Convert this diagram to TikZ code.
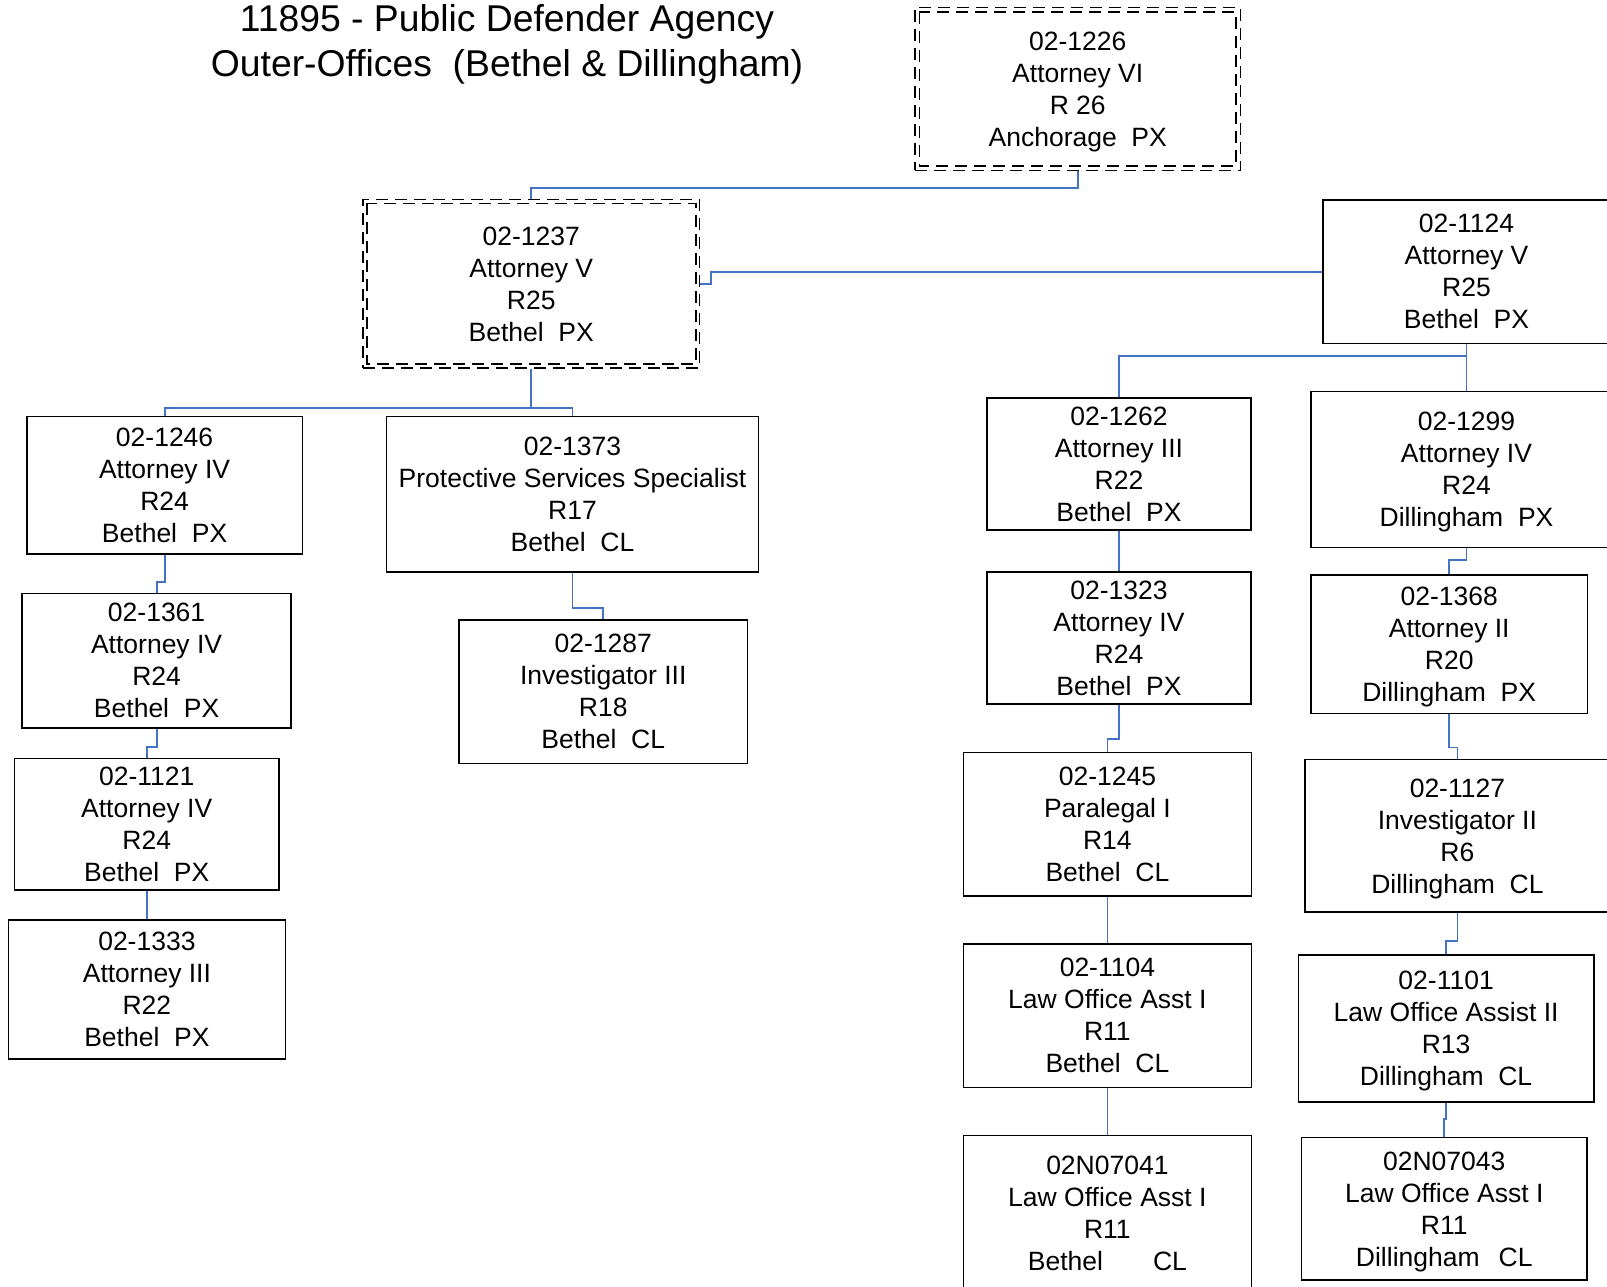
\documentclass[tikz,border=0pt]{standalone}
\usepackage{fontspec}
\setmainfont{Liberation Sans}
\usetikzlibrary{calc}
\definecolor{conblue}{HTML}{4472C4}
\newcommand\dsp{\ \ }
\begin{document}
\begin{tikzpicture}[x=1pt,y=-1pt,
  box/.style={draw=black,line width=1.6pt,inner sep=0pt,align=center,text depth=0pt,font=\fontsize{26.5}{32}\selectfont},
  dashbox/.style={box,line width=1.8pt,dash pattern=on 12pt off 7pt},
  dashline/.style={draw=black,line width=1.8pt,dash pattern=on 12pt off 7pt},
  conn/.style={draw=conblue,line width=1.8pt},
  vhv/.style={to path={-- (\tikztostart |- #1) -- (\tikztotarget |- #1) -- (\tikztotarget)}},
  hvh/.style={to path={-- (\tikztostart -| #1) -- (\tikztotarget -| #1) -- (\tikztotarget)}}]
\useasboundingbox (0,0) rectangle (1607,1287);
\clip (0,0) rectangle (1607,1287);

% title
\node[anchor=base,align=center,font=\fontsize{37.3}{45}\selectfont] (title) at (507,76.8)
  {11895 - Public Defender Agency\\Outer-Offices\dsp(Bethel \& Dillingham)};

% boxes
\node[dashbox,minimum width=325.5pt,minimum height=163pt] (b1226) at (1077.75,89)
  {02-1226\\Attorney VI\\R 26\\Anchorage\dsp PX};
\draw[dashline] ([shift={(5.3,5.3)}]b1226.north west) rectangle ([shift={(-5.3,-5.3)}]b1226.south east);

\node[dashbox,minimum width=336.5pt,minimum height=168.5pt] (b1237) at (531.25,283.75)
  {02-1237\\Attorney V\\R25\\Bethel\dsp PX};
\draw[dashline] ([shift={(4.8,4.8)}]b1237.north west) rectangle ([shift={(-4.8,-4.8)}]b1237.south east);

\node[box,minimum width=287pt,minimum height=143.3pt] (b1124) at (1466.5,271.65)
  {02-1124\\Attorney V\\R25\\Bethel\dsp PX};
\node[box,minimum width=275.8pt,minimum height=137.4pt] (b1246) at (164.6,485)
  {02-1246\\Attorney IV\\R24\\Bethel\dsp PX};
\node[box,minimum width=372pt,minimum height=155.3pt] (b1373) at (572.5,494.15)
  {02-1373\\Protective Services Specialist\\R17\\Bethel\dsp CL};
\node[box,minimum width=268.8pt,minimum height=134.6pt] (b1361) at (156.6,660.7)
  {02-1361\\Attorney IV\\R24\\Bethel\dsp PX};
\node[box,minimum width=288.5pt,minimum height=143.4pt] (b1287) at (603.25,691.7)
  {02-1287\\Investigator III\\R18\\Bethel\dsp CL};
\node[box,minimum width=264.5pt,minimum height=131.4pt] (b1121) at (146.75,824.1)
  {02-1121\\Attorney IV\\R24\\Bethel\dsp PX};
\node[box,minimum width=277.2pt,minimum height=138.5pt] (b1333) at (146.9,989.45)
  {02-1333\\Attorney III\\R22\\Bethel\dsp PX};
\node[box,minimum width=264.4pt,minimum height=132.2pt] (b1262) at (1119,463.8)
  {02-1262\\Attorney III\\R22\\Bethel\dsp PX};
\node[box,minimum width=311pt,minimum height=155.8pt] (b1299) at (1466.5,469.4)
  {02-1299\\Attorney IV\\R24\\Dillingham\dsp PX};
\node[box,minimum width=264.4pt,minimum height=132.2pt] (b1323) at (1119,638)
  {02-1323\\Attorney IV\\R24\\Bethel\dsp PX};
\node[box,minimum width=276.4pt,minimum height=138.3pt] (b1368) at (1449.2,644.15)
  {02-1368\\Attorney II\\R20\\Dillingham\dsp PX};
\node[box,minimum width=288pt,minimum height=143.5pt] (b1245) at (1107.4,824.05)
  {02-1245\\Paralegal I\\R14\\Bethel\dsp CL};
\node[box,minimum width=305.3pt,minimum height=152.8pt] (b1127) at (1457.4,835.8)
  {02-1127\\Investigator II\\R6\\Dillingham\dsp CL};
\node[box,minimum width=288pt,minimum height=143.4pt] (b1104) at (1107.4,1015.7)
  {02-1104\\Law Office Asst I\\R11\\Bethel\dsp CL};
\node[box,minimum width=295.2pt,minimum height=146.6pt] (b1101) at (1446.1,1028.5)
  {02-1101\\Law Office Assist II\\R13\\Dillingham\dsp CL};
\node[box,minimum width=288pt,minimum height=154.4pt] (b7041) at (1107.4,1212.8)
  {02N07041\\Law Office Asst I\\R11\\Bethel\hspace{50pt}CL};
\node[box,minimum width=285.3pt,minimum height=142.4pt] (b7043) at (1444.25,1208.8)
  {02N07043\\Law Office Asst I\\R11\\Dillingham\hspace{19pt}CL};

% junction coordinates
\coordinate (j1) at (0,188.3);
\coordinate (jx2) at (711,0);
\coordinate (j3) at (0,407.7);
\coordinate (j4) at (0,581.7);
\coordinate (j5) at (0,746.7);
\coordinate (j6) at (0,905);
\coordinate (j7) at (0,608.3);
\coordinate (j8) at (0,355.6);
\coordinate (j10) at (0,739);
\coordinate (j13) at (0,560);
\coordinate (j14) at (0,747.5);
\coordinate (j15) at (0,941);
\coordinate (j16) at (0,1119);

% connectors
\draw[conn] (b1226.south) to[vhv=j1] (b1237.north);
\draw[conn] (b1237.east) to[hvh=jx2] (b1124.west);
\draw[conn] (b1237.south) to[vhv=j3] (b1246.north);
\draw[conn] (b1237.south) to[vhv=j3] (b1373.north);
\draw[conn] (b1246.south) to[vhv=j4] (b1361.north);
\draw[conn] (b1361.south) to[vhv=j5] (b1121.north);
\draw[conn] (b1121.south) to[vhv=j6] (b1333.north);
\draw[conn] (b1373.south) to[vhv=j7] (b1287.north);
\draw[conn] (b1124.south) to[vhv=j8] (b1262.north);
\draw[conn] (b1124.south) -- (b1299.north);
\draw[conn] (b1262.south) -- (b1323.north);
\draw[conn] (b1323.south) to[vhv=j10] (b1245.north);
\draw[conn] (b1245.south) -- (b1104.north);
\draw[conn] (b1104.south) -- (b7041.north);
\draw[conn] (b1299.south) to[vhv=j13] (b1368.north);
\draw[conn] (b1368.south) to[vhv=j14] (b1127.north);
\draw[conn] (b1127.south) to[vhv=j15] (b1101.north);
\draw[conn] (b1101.south) to[vhv=j16] (b7043.north);
\end{tikzpicture}
\end{document}
